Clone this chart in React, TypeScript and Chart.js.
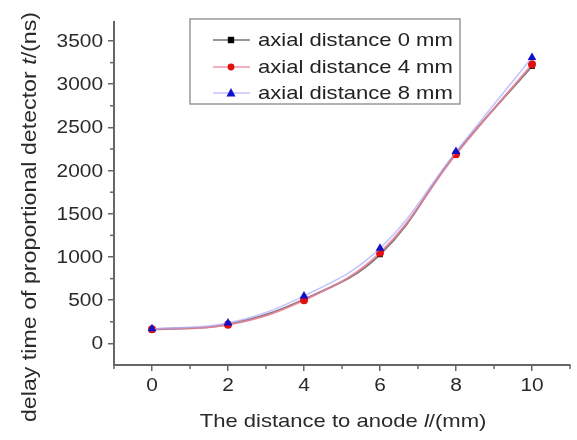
import React, { useEffect, useRef } from 'react';
import { Chart, registerables } from 'chart.js';

Chart.register(...registerables);

const distances = [0, 2, 4, 6, 8, 10];
const delay0mm = [160, 220, 510, 1030, 2200, 3210];
const delay4mm = [165, 215, 500, 1050, 2190, 3230];
const delay8mm = [170, 235, 550, 1100, 2220, 3310];
const seriesLabels = ['axial distance 0 mm', 'axial distance 4 mm', 'axial distance 8 mm'];
const xTicks = [0, 2, 4, 6, 8, 10];
const xMinorTicks = [-1, 1, 3, 5, 7, 9, 11];
const yTicks = [0, 500, 1000, 1500, 2000, 2500, 3000, 3500];
const yMinorTicks = [250, 750, 1250, 1750, 2250, 2750, 3250];

const FONT = '"Liberation Sans", Arial, sans-serif';
const STRETCH = 1.16;

type Part = { t: string; italic?: boolean };

function drawStretched(
  ctx: CanvasRenderingContext2D,
  parts: Part[],
  x: number,
  y: number,
  size: number,
  align: 'left' | 'center' | 'right',
  rotate = false,
) {
  const fonts = parts.map(p => `${p.italic ? 'italic ' : ''}${size}px ${FONT}`);
  let total = 0;
  const widths = parts.map((p, i) => {
    ctx.font = fonts[i];
    const w = ctx.measureText(p.t).width;
    total += w;
    return w;
  });
  ctx.save();
  ctx.translate(x, y);
  if (rotate) ctx.rotate(-Math.PI / 2);
  ctx.scale(STRETCH, 1);
  let cx = align === 'left' ? 0 : align === 'center' ? -total / 2 : -total;
  ctx.textBaseline = 'middle';
  ctx.textAlign = 'left';
  parts.forEach((p, i) => {
    ctx.font = fonts[i];
    ctx.fillText(p.t, cx, 0);
    cx += widths[i];
  });
  ctx.restore();
}

function drawMarker(ctx: CanvasRenderingContext2D, style: string, x: number, y: number, r: number, color: string) {
  ctx.save();
  ctx.fillStyle = color;
  ctx.beginPath();
  if (style === 'rect') {
    ctx.rect(x - r * 0.8, y - r * 0.8, r * 1.6, r * 1.6);
  } else if (style === 'triangle') {
    ctx.moveTo(x, y - r);
    ctx.lineTo(x + r * 0.9, y + r * 0.7);
    ctx.lineTo(x - r * 0.9, y + r * 0.7);
    ctx.closePath();
  } else {
    ctx.arc(x, y, r * 0.85, 0, Math.PI * 2);
  }
  ctx.fill();
  ctx.restore();
}

const decorPlugin = {
  id: 'decor',
  afterDraw(chart: any) {
    const ctx: CanvasRenderingContext2D = chart.ctx;
    const xs = chart.scales.x;
    const ys = chart.scales.y;
    const area = chart.chartArea;
    ctx.save();
    // minor ticks
    ctx.strokeStyle = '#666';
    ctx.lineWidth = 1.5;
    xMinorTicks.forEach(v => {
      const px = xs.getPixelForValue(v);
      ctx.beginPath();
      ctx.moveTo(px, area.bottom);
      ctx.lineTo(px, area.bottom + 4);
      ctx.stroke();
    });
    yMinorTicks.forEach(v => {
      const py = ys.getPixelForValue(v);
      ctx.beginPath();
      ctx.moveTo(area.left, py);
      ctx.lineTo(area.left - 4, py);
      ctx.stroke();
    });

    // tick labels
    ctx.fillStyle = '#2a2a2a';
    xTicks.forEach(v => {
      drawStretched(ctx, [{ t: String(v) }], xs.getPixelForValue(v), 386, 18, 'center');
    });
    yTicks.forEach(v => {
      drawStretched(ctx, [{ t: String(v) }], area.left - 11, ys.getPixelForValue(v) + 1, 18, 'right');
    });

    // axis titles
    drawStretched(ctx, [{ t: 'The distance to anode ' }, { t: 'l', italic: true }, { t: '/(mm)' }], 343, 422, 19, 'center');
    drawStretched(
      ctx,
      [{ t: 'delay time of proportional detector ' }, { t: 't', italic: true }, { t: '/(ns)' }],
      30,
      217,
      20,
      'center',
      true,
    );

    // legend
    const bx = 190, by = 19, bw = 270, bh = 85;
    ctx.fillStyle = '#fff';
    ctx.fillRect(bx, by, bw, bh);
    ctx.strokeStyle = '#999';
    ctx.lineWidth = 1.5;
    ctx.strokeRect(bx, by, bw, bh);
    const rows = [40, 67, 93];
    chart.data.datasets.forEach((ds: any, i: number) => {
      const y = rows[i];
      ctx.strokeStyle = ds.borderColor;
      ctx.lineWidth = 1.5;
      ctx.beginPath();
      ctx.moveTo(213, y);
      ctx.lineTo(250, y);
      ctx.stroke();
      drawMarker(ctx, ds.pointStyle, 231, y, ds.pointRadius, ds.pointBackgroundColor);
      ctx.fillStyle = '#222';
      drawStretched(ctx, [{ t: ds.label }], 258, y + 1, 19, 'left');
    });
    ctx.restore();
  },
};

export default function App() {
  const ref = useRef<HTMLCanvasElement>(null);
  useEffect(() => {
    if (!ref.current) return;
    const toPts = (arr: number[]) => distances.map((d, i) => ({ x: d, y: arr[i] }));
    const common = { tension: 0.4, pointBorderWidth: 0 };
    const chart = new Chart(ref.current, {
      type: 'line',
      data: {
        datasets: [
          {
            ...common,
            label: seriesLabels[0],
            data: toPts(delay0mm),
            borderColor: 'rgba(90,90,90,0.85)',
            borderWidth: 2,
            pointStyle: 'rect',
            pointRadius: 4,
            pointBackgroundColor: '#000',
            pointBorderColor: '#000',
            order: 3,
          },
          {
            ...common,
            label: seriesLabels[1],
            data: toPts(delay4mm),
            borderColor: 'rgba(235,130,150,0.85)',
            borderWidth: 2,
            pointStyle: 'circle',
            pointRadius: 4,
            pointBackgroundColor: '#e01010',
            pointBorderColor: '#e01010',
            order: 2,
          },
          {
            ...common,
            label: seriesLabels[2],
            data: toPts(delay8mm),
            borderColor: 'rgba(170,170,255,0.7)',
            borderWidth: 1.5,
            pointStyle: 'triangle',
            pointRadius: 5,
            pointBackgroundColor: '#1010c8',
            pointBorderColor: '#1010c8',
            order: 1,
          },
        ],
      } as any,
      options: {
        animation: false,
        responsive: false,
        layout: { padding: { top: 22, right: 7, left: 0, bottom: 0 } },
        plugins: { legend: { display: false }, tooltip: { enabled: false } },
        scales: {
          x: {
            type: 'linear',
            min: -1,
            max: 11,
            afterBuildTicks: (s: any) => { s.ticks = xTicks.map(v => ({ value: v })); },
            afterFit: (s: any) => { s.height = 75; },
            grid: { drawOnChartArea: false, drawTicks: true, tickLength: 6, color: '#666', lineWidth: 1.5 },
            border: { color: '#666', width: 2 },
            ticks: { display: false },
          },
          y: {
            type: 'linear',
            min: -250,
            max: 3720,
            afterBuildTicks: (s: any) => { s.ticks = yTicks.map(v => ({ value: v })); },
            afterFit: (s: any) => { s.width = 114; },
            grid: { drawOnChartArea: false, drawTicks: true, tickLength: 6, color: '#666', lineWidth: 1.5 },
            border: { color: '#666', width: 2 },
            ticks: { display: false },
          },
        },
      } as any,
      plugins: [decorPlugin],
    });
    return () => chart.destroy();
  }, []);
  return (
    <div style={{ position: 'absolute', left: 0, top: 0, width: 577, height: 440, background: '#fff' }}>
      <canvas ref={ref} width={577} height={440} style={{ width: 577, height: 440, display: 'block' }} />
    </div>
  );
}
